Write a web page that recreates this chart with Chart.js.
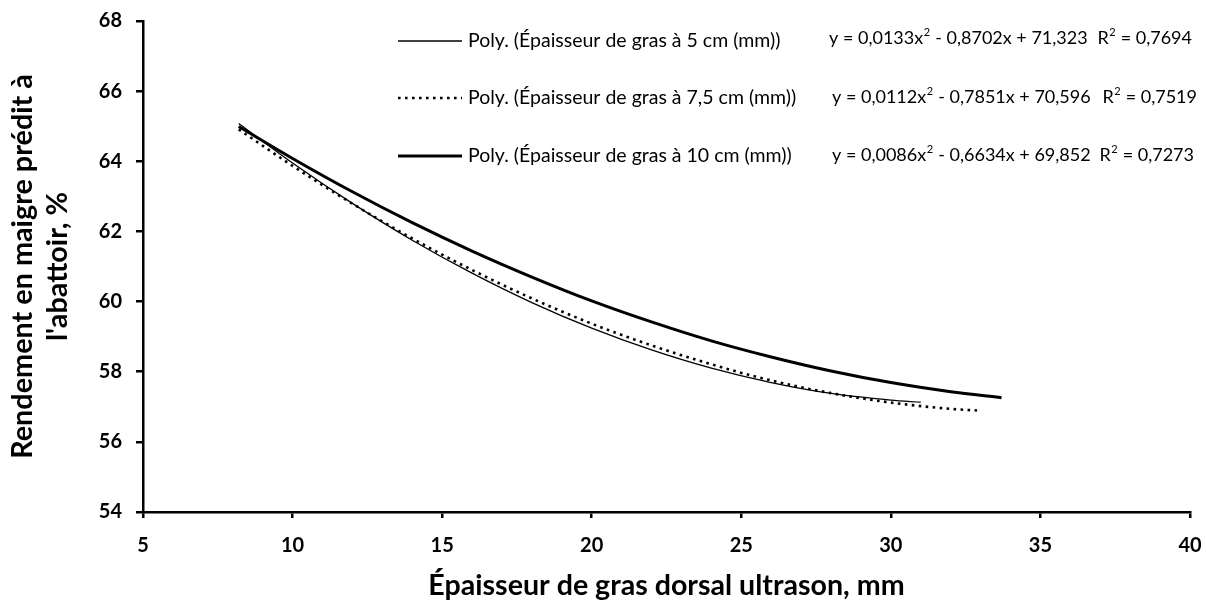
<!DOCTYPE html>
<html lang="fr">
<head>
<meta charset="utf-8">
<title>Rendement en maigre prédit à l'abattoir</title>
<script src="https://cdn.jsdelivr.net/npm/chart.js@4.4.1/dist/chart.umd.min.js"></script>
<style>
  html, body { margin: 0; padding: 0; background: #fff; }
  canvas { display: block; }
</style>
</head>
<body>
<canvas id="graficoRendement" width="1206" height="601"></canvas>
<script>
const xGras5 = [8.2, 10, 12, 14, 16, 18, 20, 22, 24, 26, 28, 30, 31];
const rendGras5 = [65.08, 63.95, 62.80, 61.75, 60.81, 59.97, 59.24, 58.62, 58.10, 57.69, 57.38, 57.19, 57.13];

const xGras75 = [8.2, 10, 12, 14, 16, 18, 20, 22, 24, 26, 28, 30, 32, 33];
const rendGras75 = [64.91, 63.87, 62.79, 61.80, 60.90, 60.09, 59.37, 58.75, 58.21, 57.75, 57.39, 57.12, 56.94, 56.89];

const xGras10 = [8.2, 10, 12, 14, 16, 18, 20, 22, 24, 26, 28, 30, 32, 33.7];
const rendGras10 = [64.99, 64.08, 63.13, 62.25, 61.44, 60.70, 60.02, 59.42, 58.88, 58.42, 58.02, 57.69, 57.43, 57.26];

const series = [
  'Poly. (Épaisseur de gras à 5 cm (mm))',
  'Poly. (Épaisseur de gras à 7,5 cm (mm))',
  'Poly. (Épaisseur de gras à 10 cm (mm))'
];
const equations = [
  'y = 0,0133x² - 0,8702x + 71,323',
  'y = 0,0112x² - 0,7851x + 70,596',
  'y = 0,0086x² - 0,6634x + 69,852'
];
const r2 = ['R² = 0,7694', 'R² = 0,7519', 'R² = 0,7273'];

const xTicks = [5, 10, 15, 20, 25, 30, 35, 40];
const yTicks = [54, 56, 58, 60, 62, 64, 66, 68];

const police = 'Lato, "Open Sans", sans-serif';

function points(xs, ys) {
  return xs.map((x, i) => ({ x: x, y: ys[i] }));
}

// écrit un texte en remontant les "²" en petit exposant ; renvoie la largeur
function texteExposant(ctx, texte, x, y, taille, mesurer) {
  const morceaux = texte.split('²');
  let pos = x;
  morceaux.forEach((m, i) => {
    ctx.font = taille + 'px ' + police;
    if (!mesurer) ctx.fillText(m, pos, y);
    pos += ctx.measureText(m).width;
    if (i < morceaux.length - 1) {
      ctx.font = Math.round(taille * 0.62) + 'px ' + police;
      if (!mesurer) ctx.fillText('2', pos + 0.5, y - taille * 0.3);
      pos += ctx.measureText('2').width + 1;
    }
  });
  return pos - x;
}

// légende à gauche + équations / R² à droite, en haut du graphique
const legendeEquations = {
  id: 'legendeEquations',
  afterDraw(chart) {
    const ctx = chart.ctx;
    const lignesY = [41, 98, 156];
    const eqY = [38, 97, 155];
    const eqX = [829, 832, 832];
    const r2Fin = [1192, 1197, 1194];
    chart.data.datasets.forEach((ds, i) => {
      const y = lignesY[i];
      ctx.save();
      ctx.strokeStyle = ds.borderColor;
      ctx.lineWidth = ds.borderWidth;
      ctx.setLineDash(ds.borderDash || []);
      ctx.beginPath();
      ctx.moveTo(398, y);
      ctx.lineTo(462, y);
      ctx.stroke();
      ctx.setLineDash([]);
      ctx.fillStyle = '#000';
      ctx.textBaseline = 'middle';
      ctx.font = '19.5px ' + police;
      ctx.fillText(ds.label, 468, y);
      texteExposant(ctx, equations[i], eqX[i], eqY[i], 18, false);
      const l = texteExposant(ctx, r2[i], 0, 0, 18, true);
      texteExposant(ctx, r2[i], r2Fin[i] - l, eqY[i], 18, false);
      ctx.restore();
    });
  }
};

const ctx = document.getElementById('graficoRendement').getContext('2d');

const grafico = new Chart(ctx, {
  type: 'scatter',
  data: {
    datasets: [
      {
        label: series[0],
        data: points(xGras5, rendGras5),
        showLine: true,
        borderColor: '#000',
        borderWidth: 1.3,
        pointRadius: 0,
        cubicInterpolationMode: 'monotone'
      },
      {
        label: series[1],
        data: points(xGras75, rendGras75),
        showLine: true,
        borderColor: '#000',
        borderWidth: 2.6,
        borderDash: [2.6, 4.4],
        pointRadius: 0,
        cubicInterpolationMode: 'monotone'
      },
      {
        label: series[2],
        data: points(xGras10, rendGras10),
        showLine: true,
        borderColor: '#000',
        borderWidth: 3,
        pointRadius: 0,
        cubicInterpolationMode: 'monotone'
      }
    ]
  },
  options: {
    responsive: false,
    animation: false,
    layout: { padding: { top: 21, right: 16, left: 0, bottom: 0 } },
    plugins: {
      legend: { display: false },
      tooltip: { enabled: false }
    },
    scales: {
      x: {
        type: 'linear',
        min: 5,
        max: 40,
        afterFit(scale) {
          scale.height = 89;
          scale.paddingLeft = 0;
          scale.paddingRight = 0;
        },
        afterBuildTicks(scale) { scale.ticks = xTicks.map(v => ({ value: v })); },
        border: { color: '#000', width: 2.5 },
        grid: { drawOnChartArea: false, drawTicks: true, tickLength: 6, color: '#000', lineWidth: 2.5 },
        ticks: { color: '#000', padding: 16, font: { family: police, size: 20, weight: 'bold' } },
        title: {
          display: true,
          text: 'Épaisseur de gras dorsal ultrason, mm',
          color: '#000',
          padding: { top: 0, bottom: 1 },
          font: { family: police, size: 28.6, weight: 'bold', lineHeight: 1 }
        }
      },
      y: {
        min: 54,
        max: 68,
        afterFit(scale) {
          scale.width = 143;
          scale.paddingTop = 0;
          scale.paddingBottom = 0;
        },
        afterBuildTicks(scale) { scale.ticks = yTicks.map(v => ({ value: v })); },
        border: { color: '#000', width: 2.5 },
        grid: { drawOnChartArea: false, drawTicks: true, tickLength: 7, color: '#000', lineWidth: 2.5 },
        ticks: { color: '#000', padding: 14, font: { family: police, size: 20, weight: 'bold' } },
        title: {
          display: true,
          text: ['Rendement en maigre prédit à', "l'abattoir, %"],
          color: '#000',
          padding: { top: 5, bottom: 0 },
          font: { family: police, size: 28.8, weight: 'bold', lineHeight: 1.22 }
        }
      }
    }
  },
  plugins: [legendeEquations]
});
</script>
</body>
</html>
